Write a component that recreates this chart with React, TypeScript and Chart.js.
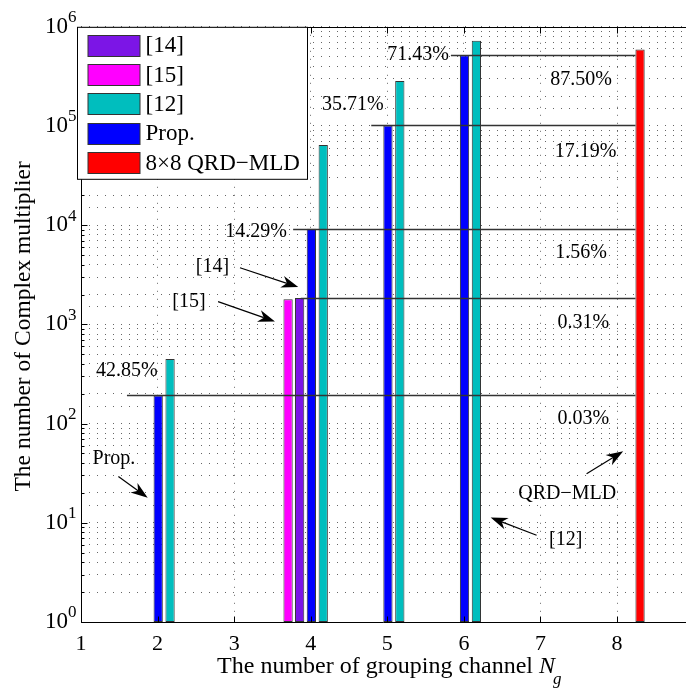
import React, { useEffect, useRef } from 'react';
import { Chart, registerables } from 'chart.js';

Chart.register(...registerables);

// ---------------- data ----------------
const NG_PROP = [2, 4, 5, 6];
const PROP = [192, 9216, 101376, 516096];
const NG_REF12 = [2, 4, 5, 6];
const REF12 = [448, 64512, 283853, 722534];
const NG_REF14 = [4];
const REF14 = [1843];
const NG_REF15 = [4];
const REF15 = [1792];
const NG_QRD = [8.3];
const QRD = [589824];

const X_TICKS = [1, 2, 3, 4, 5, 6, 7, 8];
const Y_DECADES = [0, 1, 2, 3, 4, 5, 6];

// horizontal reference levels (Prop. values and [14]) drawn up to the QRD-MLD bar
const GUIDE_LEVELS = [192, 1843, 9216, 101376, 516096];
const GUIDE_START = [1.6, 3.87, 3.77, 4.79, 5.83];

// percentage labels
const PCT_TEXT = ['42.85%', '14.29%', '35.71%', '71.43%', '87.50%', '17.19%', '1.56%', '0.31%', '0.03%'];
const PCT_X = [1.6, 3.285, 4.55, 5.4, 7.53, 7.59, 7.53, 7.56, 7.56];
const PCT_Y = [340, 8500, 164000, 520000, 293000, 55500, 5270, 1040, 112];

// arrow annotations
const ARROW_TEXT = ['[14]', '[15]', 'Prop.', '[12]', 'QRD\u2212MLD'];
const ARROW_TX = [2.717, 2.41, 1.43, 7.33, 7.35];
const ARROW_TY = [3784, 1695, 44.2, 6.8, 19.6];
const ARROW_FX = [3.076, 2.79, 1.488, 6.949, 7.602];
const ARROW_FY = [3720, 1695, 29.3, 7.49, 31.2];
const ARROW_EX = [3.837, 3.533, 1.871, 6.349, 8.08];
const ARROW_EY = [2380, 1067, 17.9, 11.3, 52.7];

// ---------------- styles ----------------
const FONT = '"Liberation Serif", "Times New Roman", serif';
const C14 = '#7C15E6';
const C15 = '#FF00FF';
const C12 = '#00BEBE';
const CPROP = '#0000FF';
const CQRD = '#FF0000';
const BAR_EDGE = '#333333';
const GRID = 'rgba(0,0,0,0.6)';
// grouped-bar slot offsets (in units of Ng)
const OFF14 = -0.145;
const OFF15 = -0.296;
const OFF12 = 0.163;
const OFFPROP = 0.008;

const toPts = (xs: number[], ys: number[], off: number) => xs.map((x, i) => ({ x: x + off, y: ys[i] }));

const decor = {
  id: 'decor',
  afterDraw(chart: any) {
    const ctx = chart.ctx as CanvasRenderingContext2D;
    const xs = chart.scales.x;
    const ys = chart.scales.y;
    const a = chart.chartArea;
    const px = (v: number) => xs.getPixelForValue(v);
    const py = (v: number) => ys.getPixelForValue(v);
    ctx.save();

    // guide lines
    const qrdMeta = chart.getDatasetMeta(4);
    const qrdBar = qrdMeta.data[0];
    const endX = qrdBar ? qrdBar.x - qrdBar.width / 2 : px(NG_QRD[0]);
    ctx.strokeStyle = '#333';
    ctx.lineWidth = 1.3;
    GUIDE_LEVELS.forEach((lv, i) => {
      const y = Math.round(py(lv)) + 0.5;
      ctx.beginPath();
      ctx.moveTo(px(GUIDE_START[i]), y);
      ctx.lineTo(endX, y);
      ctx.stroke();
    });

    // axes box (top, left, bottom)
    ctx.strokeStyle = '#000';
    ctx.lineWidth = 1;
    const L = Math.round(a.left) + 0.5;
    const T = Math.round(a.top) + 0.5;
    const B = Math.round(a.bottom) + 0.5;
    ctx.beginPath();
    ctx.moveTo(a.right, T);
    ctx.lineTo(L, T);
    ctx.lineTo(L, B);
    ctx.lineTo(a.right, B);
    ctx.stroke();

    // inner ticks
    ctx.beginPath();
    X_TICKS.forEach((t) => {
      const x = Math.round(px(t)) + 0.5;
      ctx.moveTo(x, B);
      ctx.lineTo(x, B - 6);
      ctx.moveTo(x, T);
      ctx.lineTo(x, T + 6);
    });
    Y_DECADES.forEach((d) => {
      const y = Math.round(py(Math.pow(10, d))) + 0.5;
      ctx.moveTo(L, y);
      ctx.lineTo(L + 6, y);
      if (d < 6) {
        for (let m = 2; m <= 9; m++) {
          const ym = Math.round(py(m * Math.pow(10, d))) + 0.5;
          ctx.moveTo(L, ym);
          ctx.lineTo(L + 3, ym);
        }
      }
    });
    ctx.stroke();

    // exponents of y tick labels
    ctx.fillStyle = '#000';
    ctx.font = `17px ${FONT}`;
    ctx.textAlign = 'left';
    ctx.textBaseline = 'middle';
    Y_DECADES.forEach((d) => {
      ctx.fillText(String(d), a.left - 13, py(Math.pow(10, d)) - 9);
    });

    // y title
    ctx.save();
    ctx.font = `23.5px ${FONT}`;
    ctx.textAlign = 'center';
    ctx.textBaseline = 'alphabetic';
    ctx.translate(30, (a.top + a.bottom) / 2 + 2);
    ctx.rotate(-Math.PI / 2);
    ctx.fillText('The number of Complex multiplier', 0, 0);
    ctx.restore();

    // x title with italic N and subscript g
    const main = 'The number of grouping channel ';
    ctx.font = `24px ${FONT}`;
    const w1 = ctx.measureText(main).width;
    ctx.font = `italic 24px ${FONT}`;
    const w2 = ctx.measureText('N').width;
    ctx.font = `italic 17px ${FONT}`;
    const w3 = ctx.measureText('g').width;
    const total = w1 + w2 - 2 + w3;
    const cx = px(5) + 2;
    const base = 673;
    let sx = cx - total / 2;
    ctx.textAlign = 'left';
    ctx.textBaseline = 'alphabetic';
    ctx.font = `24px ${FONT}`;
    ctx.fillText(main, sx, base);
    sx += w1;
    ctx.font = `italic 24px ${FONT}`;
    ctx.fillText('N', sx, base);
    sx += w2 - 2;
    ctx.font = `italic 17px ${FONT}`;
    ctx.fillText('g', sx, base + 11);

    // percentage labels
    ctx.font = `20px ${FONT}`;
    ctx.textAlign = 'center';
    ctx.textBaseline = 'middle';
    PCT_TEXT.forEach((t, i) => ctx.fillText(t, px(PCT_X[i]), py(PCT_Y[i])));

    // arrow annotations
    ARROW_TEXT.forEach((t, i) => {
      ctx.fillStyle = '#000';
      ctx.fillText(t, px(ARROW_TX[i]), py(ARROW_TY[i]));
      const x1 = px(ARROW_FX[i]);
      const y1 = py(ARROW_FY[i]);
      const x2 = px(ARROW_EX[i]);
      const y2 = py(ARROW_EY[i]);
      const dx = x2 - x1;
      const dy = y2 - y1;
      const len = Math.hypot(dx, dy);
      const ux = dx / len;
      const uy = dy / len;
      const nx = -uy;
      const ny = ux;
      const HL = 17;
      const HW = 6;
      const notch = 0.7 * HL;
      ctx.strokeStyle = '#000';
      ctx.lineWidth = 1.2;
      ctx.beginPath();
      ctx.moveTo(x1, y1);
      ctx.lineTo(x2 - ux * notch, y2 - uy * notch);
      ctx.stroke();
      ctx.beginPath();
      ctx.moveTo(x2, y2);
      ctx.lineTo(x2 - ux * HL + nx * HW, y2 - uy * HL + ny * HW);
      ctx.lineTo(x2 - ux * notch, y2 - uy * notch);
      ctx.lineTo(x2 - ux * HL - nx * HW, y2 - uy * HL - ny * HW);
      ctx.closePath();
      ctx.fill();
    });

    // legend
    const bx = a.left - 3.5;
    const by = a.top + 0.5;
    const bw = 230;
    const bh = 152;
    ctx.fillStyle = '#fff';
    ctx.fillRect(bx, by, bw, bh);
    ctx.strokeStyle = '#000';
    ctx.lineWidth = 1;
    ctx.strokeRect(bx, by, bw, bh);
    ctx.font = `23px ${FONT}`;
    ctx.textAlign = 'left';
    ctx.textBaseline = 'middle';
    chart.data.datasets.forEach((ds: any, i: number) => {
      const cy = by + 18 + i * 29.3;
      ctx.fillStyle = ds.backgroundColor;
      ctx.fillRect(bx + 10.5, Math.round(cy - 10.5) + 0.5, 52, 21);
      ctx.strokeStyle = BAR_EDGE;
      ctx.strokeRect(bx + 10.5, Math.round(cy - 10.5) + 0.5, 52, 21);
      ctx.fillStyle = '#000';
      ctx.fillText(ds.label, bx + 68, cy + 1);
    });

    ctx.restore();
  },
};

function App() {
  const ref = useRef<HTMLCanvasElement>(null);
  useEffect(() => {
    const canvas = ref.current;
    if (!canvas) return;
    const barStyle = {
      borderColor: BAR_EDGE,
      borderWidth: 1,
      borderSkipped: false,
      maxBarThickness: 10,
      barPercentage: 1,
      grouped: false,
    };
    const chart = new Chart(canvas, {
      type: 'bar',
      data: {
        datasets: [
          { label: '[14]', data: toPts(NG_REF14, REF14, OFF14), backgroundColor: C14, ...barStyle },
          { label: '[15]', data: toPts(NG_REF15, REF15, OFF15), backgroundColor: C15, ...barStyle },
          { label: '[12]', data: toPts(NG_REF12, REF12, OFF12), backgroundColor: C12, ...barStyle },
          { label: 'Prop.', data: toPts(NG_PROP, PROP, OFFPROP), backgroundColor: CPROP, ...barStyle },
          { label: '8\u00d78 QRD\u2212MLD', data: toPts(NG_QRD, QRD, 0), backgroundColor: CQRD, ...barStyle },
        ] as any,
      },
      options: {
        animation: false,
        responsive: false,
        events: [],
        layout: { padding: { top: 24, left: 0, right: 0, bottom: 0 } },
        plugins: {
          legend: { display: false },
          tooltip: { enabled: false },
          title: { display: false },
        },
        scales: {
          x: {
            type: 'linear',
            offset: false,
            min: 1,
            max: 8.9,
            afterFit: (s: any) => {
              s.height = 69;
            },
            ticks: {
              stepSize: 1,
              includeBounds: false,
              autoSkip: false,
              maxRotation: 0,
              color: '#000',
              padding: 9,
              font: { family: FONT, size: 22 },
            },
            grid: { color: GRID, lineWidth: 1, drawTicks: false, offset: false },
            border: { display: false, dash: [1, 7] },
          },
          y: {
            type: 'logarithmic',
            min: 1,
            max: 1e6,
            afterFit: (s: any) => {
              s.width = 81;
            },
            ticks: {
              autoSkip: false,
              color: '#000',
              padding: 13,
              font: { family: FONT, size: 23 },
              callback: (v: any) => {
                const l = Math.log10(Number(v));
                return Math.abs(l - Math.round(l)) < 1e-9 ? '10' : '';
              },
            },
            grid: { color: GRID, lineWidth: 1, drawTicks: false },
            border: { display: false, dash: [1, 7] },
          },
        },
      } as any,
      plugins: [decor],
    });
    return () => chart.destroy();
  }, []);
  return (
    <div style={{ position: 'absolute', left: 0, top: 0, width: 686, height: 691, background: '#fff' }}>
      <canvas ref={ref} width={686} height={691} style={{ display: 'block' }} />
    </div>
  );
}

export default App;
